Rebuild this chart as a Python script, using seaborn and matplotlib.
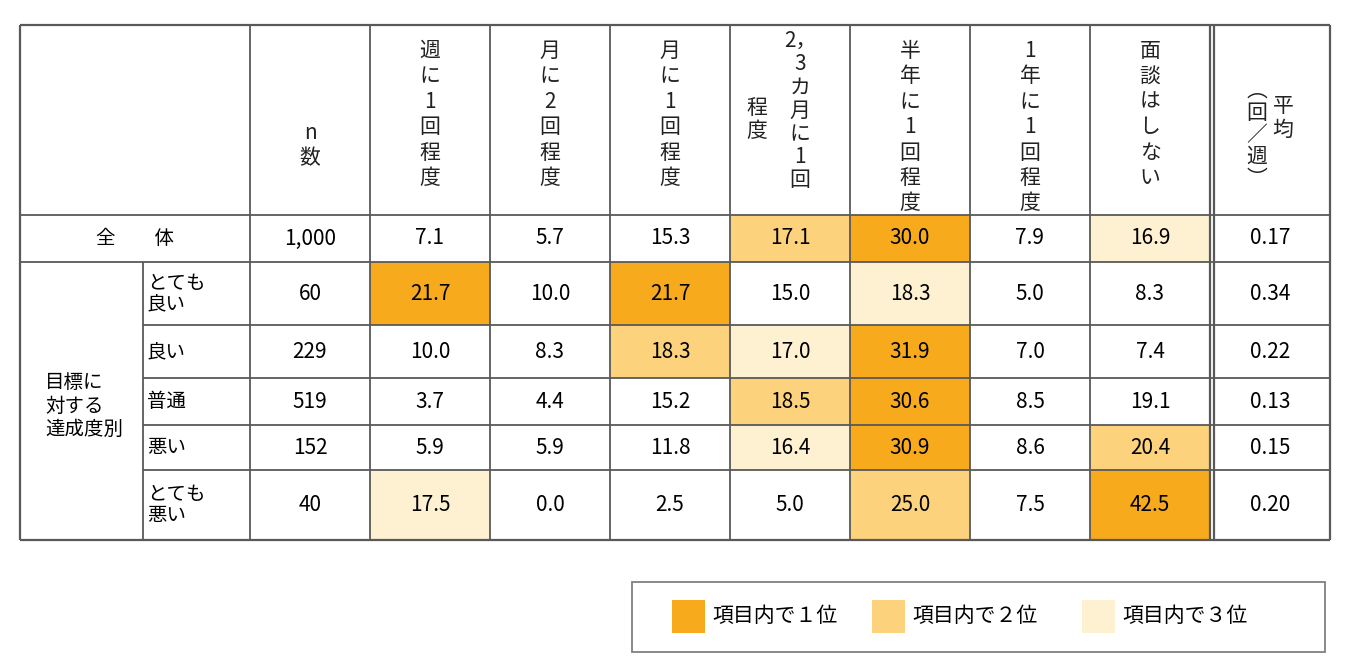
import numpy as np
import matplotlib
matplotlib.use("Agg")
import matplotlib.pyplot as plt
from matplotlib.colors import ListedColormap
from matplotlib.patches import Rectangle
import seaborn as sns

FONT = "Noto Sans CJK JP"
plt.rcParams["font.family"] = FONT

columns = ["週に1回程度", "月に2回程度", "月に1回程度", "2，3カ月に1回程度", "半年に1回程度", "1年に1回程度", "面談はしない"]
row_labels = ["全体", "とても良い", "良い", "普通", "悪い", "とても悪い"]
n_values = ["1,000", "60", "229", "519", "152", "40"]
values = [
    [7.1, 5.7, 15.3, 17.1, 30.0, 7.9, 16.9],
    [21.7, 10.0, 21.7, 15.0, 18.3, 5.0, 8.3],
    [10.0, 8.3, 18.3, 17.0, 31.9, 7.0, 7.4],
    [3.7, 4.4, 15.2, 18.5, 30.6, 8.5, 19.1],
    [5.9, 5.9, 11.8, 16.4, 30.9, 8.6, 20.4],
    [17.5, 0.0, 2.5, 5.0, 25.0, 7.5, 42.5],
]
ranks = [
    [0, 0, 0, 2, 1, 0, 3],
    [1, 0, 1, 0, 3, 0, 0],
    [0, 0, 2, 3, 1, 0, 0],
    [0, 0, 0, 2, 1, 0, 0],
    [0, 0, 0, 3, 1, 0, 2],
    [3, 0, 0, 0, 2, 0, 1],
]
averages = ["0.17", "0.34", "0.22", "0.13", "0.15", "0.20"]
legend_labels = ["項目内で１位", "項目内で２位", "項目内で３位"]

rank_colors = ["#FFFFFF", "#F6AA1C", "#FCD27C", "#FEF1D2"]

W, H = 1350, 665
fig = plt.figure(figsize=(W / 100, H / 100), dpi=100)

top, head_bot = 25, 215
row_h = [47, 63, 53, 47, 45, 70]
row_edges = np.concatenate([[head_bot], head_bot + np.cumsum(row_h)])
col_x0, col_w = 370, 120
ncol = len(columns)
x_end_data = col_x0 + col_w * ncol

rank_arr = np.repeat(np.array(ranks), row_h, axis=0)
hax = fig.add_axes([col_x0 / W, 1 - row_edges[-1] / H, col_w * ncol / W, sum(row_h) / H])
sns.heatmap(rank_arr, ax=hax, cmap=ListedColormap(rank_colors), vmin=-0.5, vmax=3.5,
            cbar=False, xticklabels=False, yticklabels=False)
hax.set_axis_off()

ax = fig.add_axes([0, 0, 1, 1], facecolor="none")
ax.set_xlim(0, W)
ax.set_ylim(H, 0)
ax.set_axis_off()

lc = "#595959"
lw = 1.3
def hline(y, x0, x1, w=lw):
    ax.plot([x0, x1], [y, y], color=lc, lw=w, solid_capstyle="butt")
def vline(x, y0, y1, w=lw):
    ax.plot([x, x], [y0, y1], color=lc, lw=w, solid_capstyle="butt")

x_left, x_sub, x_n, x_right = 20, 143, 250, 1330
hline(top, x_left, x_right, 1.6)
hline(head_bot, x_left, x_right)
hline(row_edges[1], x_left, x_right)
for y in row_edges[2:-1]:
    hline(y, x_sub, x_right)
hline(row_edges[-1], x_left, x_right, 1.6)
vline(x_left, top, row_edges[-1], 1.6)
vline(x_sub, row_edges[1], row_edges[-1])
vline(x_right, top, row_edges[-1], 1.6)
for i in range(ncol + 1):
    if i == ncol:
        vline(x_end_data, top, row_edges[-1], 1.6)
        vline(x_end_data + 4, top, row_edges[-1], 1.6)
    else:
        vline(col_x0 + col_w * i, top, row_edges[-1])
vline(x_n, top, row_edges[-1])

fs_h = 15
def vtext(x, y, s, ls=1.2):
    ax.text(x, y, "\n".join(s), ha="center", va="top", fontsize=fs_h,
            linespacing=ls, color="#222222")

vtext(310, 122, "n数")
for i, c in enumerate(columns):
    cx = col_x0 + col_w * i + col_w / 2
    if c.startswith("2，"):
        vtext(cx + 10, 30, ["2，", "3", "カ", "月", "に", "1", "回"], ls=1.07)
        vtext(cx - 33, 97, "程度", ls=1.07)
    else:
        vtext(cx, 40, c)
vtext(1283, 95, "平均", ls=1.1)
vtext(1257, 80, ["︵", "回", "／", "週", "︶"], ls=1.0)

mid = (row_edges[:-1] + row_edges[1:]) / 2
fs_v = 15
ax.text(135, mid[0], "全　　体", ha="center", va="center", fontsize=fs_v - 1)
ax.text(45, (row_edges[1] + row_edges[-1]) / 2 + 5, "目標に\n対する\n達成度別", ha="left",
        va="center", fontsize=fs_v - 1, linespacing=1.15)
for r in range(1, len(row_labels)):
    lab = row_labels[r]
    if lab.startswith("とても"):
        lab = "とても\n" + lab[3:]
    ax.text(147, mid[r], lab, ha="left", va="center", fontsize=fs_v - 1, linespacing=1.0)
for r in range(len(row_labels)):
    ax.text(310, mid[r], n_values[r], ha="center", va="center", fontsize=fs_v)
    for c in range(ncol):
        ax.text(col_x0 + col_w * c + col_w / 2, mid[r], f"{values[r][c]:.1f}",
                ha="center", va="center", fontsize=fs_v)
    ax.text(1270, mid[r], averages[r], ha="center", va="center", fontsize=fs_v)

ax.add_patch(Rectangle((632, 582), 693, 70, fill=False, ec="#808080", lw=1.3))
for (px, tx), lab, col in zip([(672, 712), (872, 912), (1082, 1122)], legend_labels, rank_colors[1:]):
    ax.add_patch(Rectangle((px, 600), 33, 33, color=col, lw=0))
    ax.text(tx, 616, lab, ha="left", va="center", fontsize=fs_v)

fig.savefig("out.png", dpi=100)
